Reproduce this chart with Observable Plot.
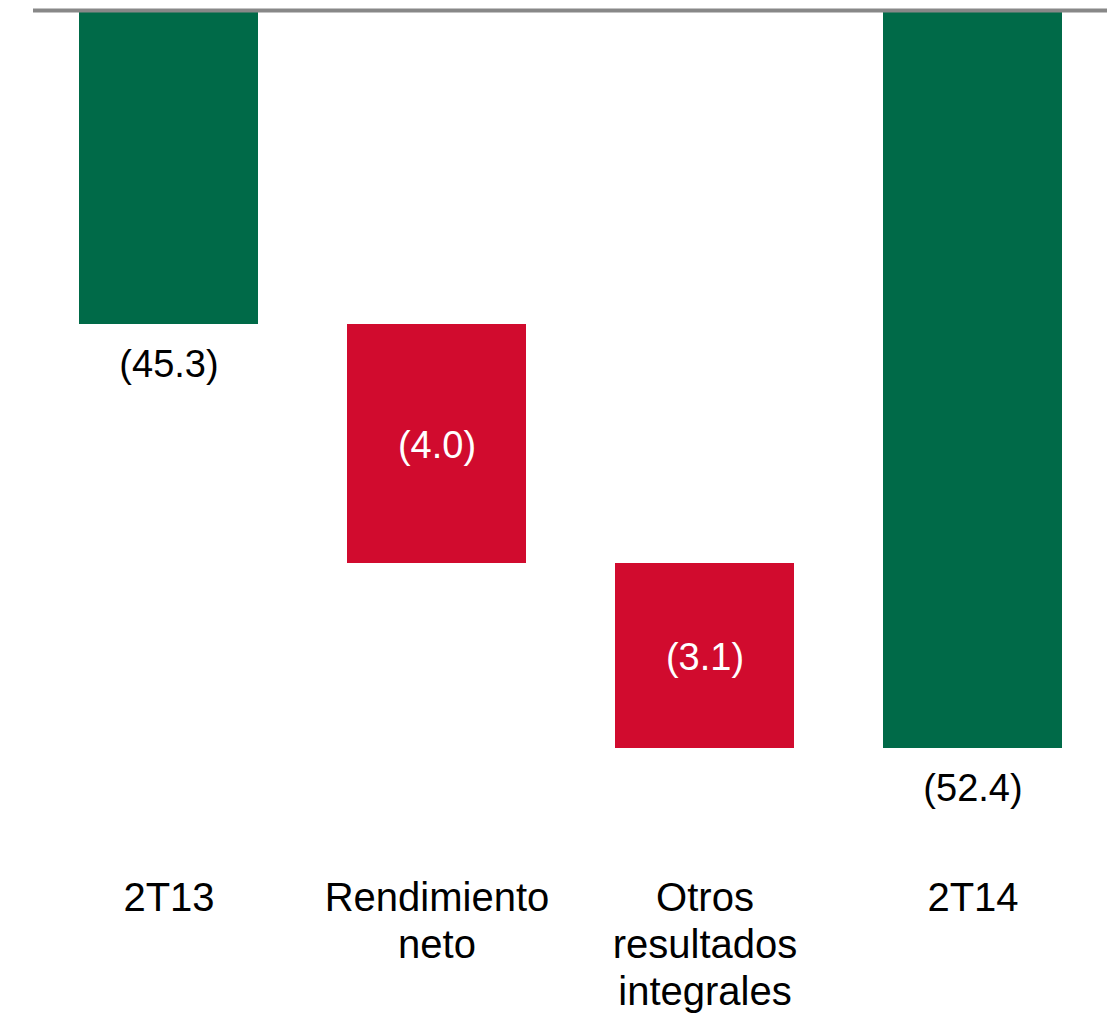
<!DOCTYPE html>
<html>
<head>
<meta charset="utf-8">
<script src="https://cdn.jsdelivr.net/npm/d3@7"></script>
<script src="https://cdn.jsdelivr.net/npm/@observablehq/plot@0.6"></script>
<style>
  html, body { margin: 0; padding: 0; background: #fff; }
  #chart svg { display: block; }
</style>
</head>
<body>
<div id="chart"></div>
<script>
// Data
const categories = ["2T13", "Rendimiento neto", "Otros resultados integrales", "2T14"];
const tickLabels = ["2T13", "Rendimiento\nneto", "Otros\nresultados\nintegrales", "2T14"];
const values = [-45.3, -4.0, -3.1, -52.4];
const kinds = ["total", "change", "change", "total"];
const valueLabels = ["(45.3)", "(4.0)", "(3.1)", "(52.4)"];

// Build waterfall table
let running = 0;
const rows = categories.map((c, i) => {
  let start, end;
  if (kinds[i] === "total") { start = 0; end = values[i]; running = values[i]; }
  else { start = running; end = running + values[i]; running = end; }
  return { cat: c, tick: tickLabels[i], start, end, mid: (start + end) / 2, kind: kinds[i], label: valueLabels[i] };
});

const colors = { total: "#006A48", change: "#D10B2E" };

// The reference uses a non-proportional (illustrative) vertical scale: piecewise linear
const yDomain = [0, rows[0].end, rows[1].end, rows[2].end];
const yRange = [10, 324, 563, 748];

const chart = Plot.plot({
  width: 1113,
  height: 1017,
  marginTop: 10,
  marginBottom: 269,
  marginLeft: 33,
  marginRight: 6,
  style: { fontFamily: "'Liberation Sans', Arial, sans-serif", background: "#fff" },
  x: { domain: categories, paddingInner: 0.333, paddingOuter: 0.1667, axis: null },
  y: { type: "linear", domain: yDomain, range: yRange, axis: null },
  marks: [
    Plot.barY(rows, { x: "cat", y1: "start", y2: "end", fill: d => colors[d.kind] }),
    Plot.ruleY([0], { stroke: "#888888", strokeWidth: 4 }),
    Plot.text(rows.filter(d => d.kind === "total"), {
      x: "cat", y: "end", text: "label", dy: 40, fill: "#000",
      fontSize: 38
    }),
    Plot.text(rows.filter(d => d.kind === "change"), {
      x: "cat", y: "mid", text: "label", dy: 2, fill: "#fff",
      fontSize: 38
    }),
    Plot.axisX({
      anchor: "bottom",
      tickSize: 0,
      tickPadding: 129,
      fontSize: 40,
      lineHeight: 1.18,
      tickFormat: c => tickLabels[categories.indexOf(c)],
      fill: "#000",
      label: null
    })
  ]
});

document.getElementById("chart").appendChild(chart);
</script>
</body>
</html>
